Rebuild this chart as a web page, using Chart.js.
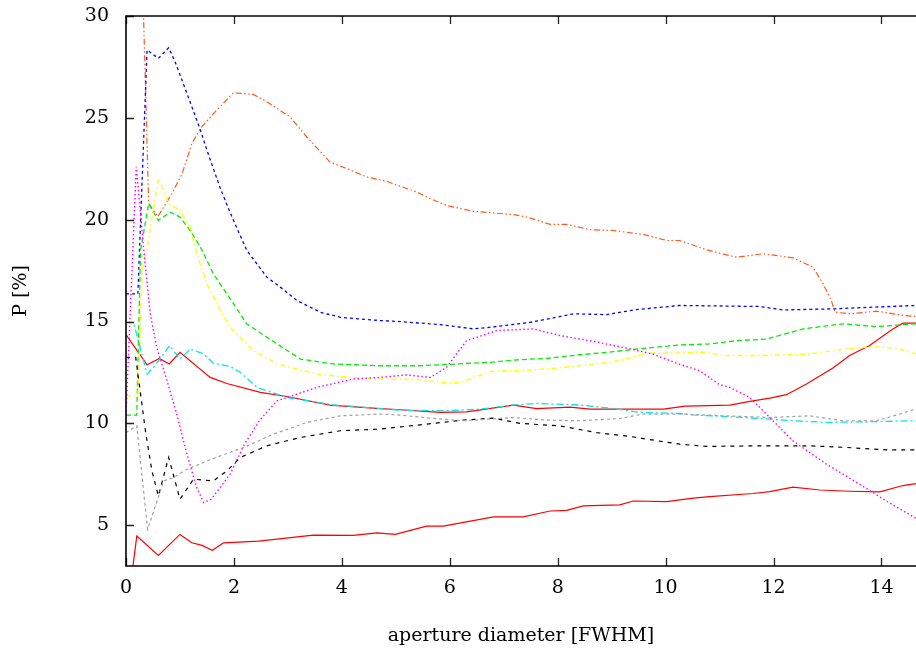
<!DOCTYPE html>
<html>
<head>
<meta charset="utf-8">
<script src="https://cdn.jsdelivr.net/npm/chart.js@4.4.1/dist/chart.umd.min.js"></script>
<style>
  html, body { margin: 0; padding: 0; background: #fff; overflow: hidden; }
  #wrap { width: 916px; height: 653px; }
</style>
</head>
<body>
<div id="wrap"><canvas id="c" width="916" height="653"></canvas></div>
<script>
// ---- Data ----
const xTicks = [0, 2, 4, 6, 8, 10, 12, 14];
const yTicks = [5, 10, 15, 20, 25, 30];

const redUpperX = [0, 0.39, 0.62, 0.80, 1.0, 1.56, 1.87, 2.49, 2.98, 3.78, 4.71, 5.08, 5.82, 6.31, 7.18, 7.61, 8.23, 8.6, 9.96, 10.36, 11.19, 11.56, 11.93, 12.24, 12.61, 13.10, 13.41, 13.78, 14.21, 14.40, 14.64];
const redUpperY = [14.36, 12.88, 13.19, 12.92, 13.49, 12.26, 11.96, 11.52, 11.32, 10.90, 10.73, 10.67, 10.54, 10.57, 10.90, 10.73, 10.80, 10.70, 10.70, 10.85, 10.90, 11.08, 11.24, 11.41, 11.93, 12.72, 13.33, 13.82, 14.64, 14.92, 14.92];

const redLowerX = [0.08, 0.20, 0.60, 1.0, 1.22, 1.41, 1.60, 1.81, 2.46, 3.47, 4.21, 4.65, 4.99, 5.57, 5.88, 6.81, 7.36, 7.86, 8.17, 8.47, 9.15, 9.40, 10.02, 10.51, 10.82, 11.62, 11.93, 12.36, 12.86, 13.41, 13.97, 14.40, 14.64];
const redLowerY = [2.0, 4.47, 3.52, 4.55, 4.14, 4.01, 3.77, 4.14, 4.22, 4.52, 4.50, 4.63, 4.55, 4.96, 4.96, 5.41, 5.41, 5.70, 5.73, 5.95, 6.0, 6.19, 6.16, 6.33, 6.41, 6.56, 6.65, 6.87, 6.73, 6.67, 6.64, 6.95, 7.04];

const orangeX = [0.32, 0.42, 0.59, 0.85, 1.04, 1.22, 1.38, 1.62, 1.99, 2.36, 2.61, 3.04, 3.35, 3.78, 4.09, 4.46, 4.83, 5.39, 5.64, 5.94, 6.44, 7.18, 7.43, 7.86, 8.17, 8.60, 9.03, 9.58, 10.02, 10.26, 10.76, 11.31, 11.81, 12.36, 12.73, 12.92, 13.07, 13.14, 13.41, 13.91, 14.40, 14.64];
const orangeY = [30.5, 20.8, 20.15, 21.28, 22.26, 23.74, 24.48, 25.21, 26.23, 26.15, 25.79, 25.05, 24.06, 22.83, 22.51, 22.10, 21.88, 21.36, 21.03, 20.70, 20.41, 20.25, 20.13, 19.77, 19.77, 19.51, 19.47, 19.28, 18.98, 18.98, 18.52, 18.16, 18.33, 18.13, 17.67, 16.85, 16.03, 15.46, 15.38, 15.51, 15.30, 15.25];

const blueX = [0, 0.22, 0.39, 0.60, 0.79, 0.91, 1.13, 1.38, 1.5, 1.75, 1.99, 2.24, 2.61, 2.86, 3.17, 3.60, 3.97, 4.71, 5.08, 5.82, 6.44, 6.75, 7.49, 7.92, 8.29, 8.91, 9.40, 10.26, 11.74, 12.18, 13.04, 14.64];
const blueY = [16.36, 16.36, 28.33, 27.92, 28.44, 27.75, 26.20, 24.39, 23.41, 21.52, 19.97, 18.49, 17.18, 16.69, 16.03, 15.46, 15.21, 15.05, 15.0, 14.85, 14.64, 14.72, 14.96, 15.18, 15.38, 15.34, 15.57, 15.79, 15.74, 15.57, 15.62, 15.79];

const greenX = [0, 0.2, 0.27, 0.42, 0.60, 0.82, 1.0, 1.19, 1.38, 1.62, 1.87, 2.24, 2.61, 3.23, 3.84, 4.71, 5.45, 6.75, 7.3, 7.80, 8.41, 9.03, 9.65, 10.26, 10.82, 11.31, 11.87, 12.55, 13.29, 13.91, 14.64];
const greenY = [10.41, 10.41, 18.5, 20.79, 19.97, 20.37, 20.13, 19.47, 18.65, 17.34, 16.36, 14.88, 14.23, 13.16, 12.92, 12.83, 12.83, 13.0, 13.13, 13.19, 13.37, 13.52, 13.70, 13.85, 13.9, 14.06, 14.14, 14.64, 14.89, 14.75, 14.89];

const yellowX = [0, 0.22, 0.3, 0.39, 0.6, 0.79, 1.0, 1.19, 1.31, 1.5, 1.75, 1.93, 2.24, 2.36, 2.80, 3.54, 4.15, 4.71, 5.45, 5.94, 6.19, 6.75, 7.49, 7.98, 8.72, 9.15, 9.65, 10.26, 10.70, 11.13, 11.74, 12.67, 13.35, 13.84, 14.28, 14.64];
const yellowY = [11.36, 11.36, 17.5, 18.6, 22.02, 20.79, 20.46, 19.64, 18.33, 16.85, 15.54, 14.72, 13.90, 13.57, 12.92, 12.42, 12.26, 12.18, 12.15, 11.98, 12.01, 12.55, 12.62, 12.72, 12.92, 13.08, 13.44, 13.46, 13.49, 13.33, 13.33, 13.41, 13.66, 13.77, 13.69, 13.41];

const cyanX = [0, 0.14, 0.39, 0.51, 0.81, 1.0, 1.19, 1.44, 1.62, 1.93, 2.12, 2.43, 2.98, 3.84, 5.08, 5.94, 6.56, 7.18, 7.61, 8.41, 9.03, 9.52, 10.26, 10.51, 11.44, 12.36, 12.98, 13.72, 14.64];
const cyanY = [14.96, 14.96, 12.42, 12.75, 13.82, 13.16, 13.65, 13.41, 12.95, 12.8, 12.5, 11.77, 11.27, 10.91, 10.65, 10.62, 10.70, 10.90, 10.98, 10.90, 10.73, 10.54, 10.49, 10.42, 10.29, 10.13, 10.05, 10.08, 10.13];

const magentaX = [0, 0.19, 0.33, 0.45, 0.57, 0.76, 0.94, 1.13, 1.31, 1.44, 1.58, 1.93, 2.2, 2.49, 2.80, 3.54, 4.21, 4.71, 5.20, 5.64, 5.94, 6.31, 6.87, 7.55, 8.04, 8.66, 9.34, 9.77, 10.26, 10.63, 11.0, 11.19, 11.56, 11.93, 12.36, 12.98, 13.60, 14.09, 14.64];
const magentaY = [10.4, 22.6, 18.49, 15.38, 13.73, 12.10, 10.46, 8.49, 6.85, 6.11, 6.28, 7.51, 9.0, 10.2, 11.11, 11.77, 12.18, 12.26, 12.38, 12.26, 12.75, 14.06, 14.56, 14.64, 14.31, 14.03, 13.66, 13.4, 12.9, 12.59, 11.90, 11.77, 11.27, 10.29, 9.14, 8.0, 7.01, 6.19, 5.34];

const blackX = [0, 0.18, 0.36, 0.48, 0.60, 0.79, 1.0, 1.25, 1.62, 1.87, 2.12, 2.61, 3.23, 3.97, 4.71, 5.08, 5.45, 6.25, 6.81, 7.30, 8.04, 8.72, 9.34, 9.96, 10.26, 10.76, 11.74, 12.67, 13.35, 14.09, 14.64];
const blackY = [13.24, 13.24, 9.64, 7.67, 6.44, 8.33, 6.28, 7.26, 7.18, 7.67, 8.33, 8.90, 9.31, 9.64, 9.72, 9.83, 9.93, 10.16, 10.26, 10.0, 9.88, 9.55, 9.36, 9.10, 8.98, 8.87, 8.90, 8.90, 8.82, 8.70, 8.70];

const grayX = [0, 0.2, 0.40, 0.70, 0.88, 1.13, 1.62, 2.18, 2.73, 3.35, 3.97, 4.71, 5.08, 5.64, 6.25, 7.18, 7.80, 8.41, 9.15, 9.58, 10.26, 11.13, 11.93, 12.67, 13.29, 13.91, 14.34, 14.64];
const grayY = [9.55, 9.88, 4.80, 7.18, 7.34, 7.75, 8.28, 8.82, 9.47, 10.05, 10.37, 10.46, 10.41, 10.26, 10.13, 10.29, 10.16, 10.13, 10.24, 10.46, 10.46, 10.37, 10.29, 10.37, 10.13, 10.13, 10.46, 10.72];

// ---- Build datasets ----
function pts(xs, ys) { return xs.map((x, i) => ({ x: x, y: ys[i] })); }
function ds(xs, ys, color, dash, width) {
  return {
    data: pts(xs, ys), showLine: true, borderColor: color, backgroundColor: color,
    borderWidth: width || 1.2, borderDash: dash, pointRadius: 0, pointHoverRadius: 0,
    tension: 0, fill: false
  };
}

const datasets = [
  ds(grayX, grayY, '#a0a0a0', [3, 3]),
  ds(blackX, blackY, '#000000', [4, 5]),
  ds(magentaX, magentaY, '#ff00ff', [1.5, 2.5], 1.4),
  ds(cyanX, cyanY, '#00e8e8', [7, 3, 2, 3], 1.3),
  ds(yellowX, yellowY, '#ffff00', [5, 3, 1.5, 3], 1.4),
  ds(greenX, greenY, '#00ee00', [5, 3], 1.3),
  ds(blueX, blueY, '#0000ff', [3, 3], 1.3),
  ds(orangeX, orangeY, '#ff5a1e', [6, 2.5, 1.5, 2.5, 1.5, 2.5], 1.2),
  ds(redLowerX, redLowerY, '#ff0000', [], 1.2),
  ds(redUpperX, redUpperY, '#ff0000', [], 1.2)
];

const FONT = "'DejaVu Serif', 'Liberation Serif', serif";

const framePlugin = {
  id: 'frame',
  afterDraw(chart) {
    const { ctx, chartArea, scales } = chart;
    const { left, top, right, bottom } = chartArea;
    const xs = scales.x, ys = scales.y;
    ctx.save();
    ctx.strokeStyle = '#222';
    ctx.lineWidth = 1.3;
    ctx.beginPath();
    xs.ticks.forEach(t => {
      const px = Math.round(xs.getPixelForValue(t.value)) + 0.5;
      ctx.moveTo(px, bottom); ctx.lineTo(px, bottom - 8);
      ctx.moveTo(px, top); ctx.lineTo(px, top + 8);
    });
    ys.ticks.forEach(t => {
      const py = Math.round(ys.getPixelForValue(t.value)) + 0.5;
      ctx.moveTo(left, py); ctx.lineTo(left + 8, py);
    });
    ctx.stroke();
    ctx.strokeStyle = '#000';
    ctx.lineWidth = 1.6;
    ctx.beginPath();
    ctx.moveTo(right + 5, top);
    ctx.lineTo(left, top);
    ctx.lineTo(left, bottom);
    ctx.lineTo(right + 5, bottom);
    ctx.stroke();
    ctx.restore();
  }
};

new Chart(document.getElementById('c'), {
  type: 'scatter',
  data: { datasets: datasets },
  options: {
    responsive: false,
    animation: false,
    events: [],
    layout: { padding: { left: 0, right: 0, top: 16, bottom: 0 } },
    plugins: { legend: { display: false }, tooltip: { enabled: false } },
    scales: {
      x: {
        type: 'linear', min: 0, max: 14.64,
        afterFit(s) { s.paddingLeft = 0; s.paddingRight = 0; },
        afterBuildTicks(s) { s.ticks = xTicks.map(v => ({ value: v })); },
        grid: { display: false, drawTicks: false },
        border: { display: false },
        ticks: { color: '#000', font: { family: FONT, size: 19, lineHeight: 1.2 }, padding: 11, maxRotation: 0, minRotation: 0, autoSkip: false },
        title: { display: true, text: 'aperture diameter [FWHM]', color: '#000', font: { family: FONT, size: 19, lineHeight: 1.2 }, padding: { top: 13.4, bottom: 6 } }
      },
      y: {
        type: 'linear', min: 3, max: 30,
        afterFit(s) { s.width = 126; s.paddingTop = 0; s.paddingBottom = 0; },
        afterBuildTicks(s) { s.ticks = yTicks.map(v => ({ value: v })); },
        grid: { display: false, drawTicks: false },
        border: { display: false },
        ticks: { color: '#000', font: { family: FONT, size: 19 }, padding: 17, autoSkip: false },
        title: { display: true, text: 'P [%]', color: '#000', font: { family: FONT, size: 19 }, padding: { top: 10, bottom: 0 } }
      }
    }
  },
  plugins: [framePlugin]
});
</script>
</body>
</html>
